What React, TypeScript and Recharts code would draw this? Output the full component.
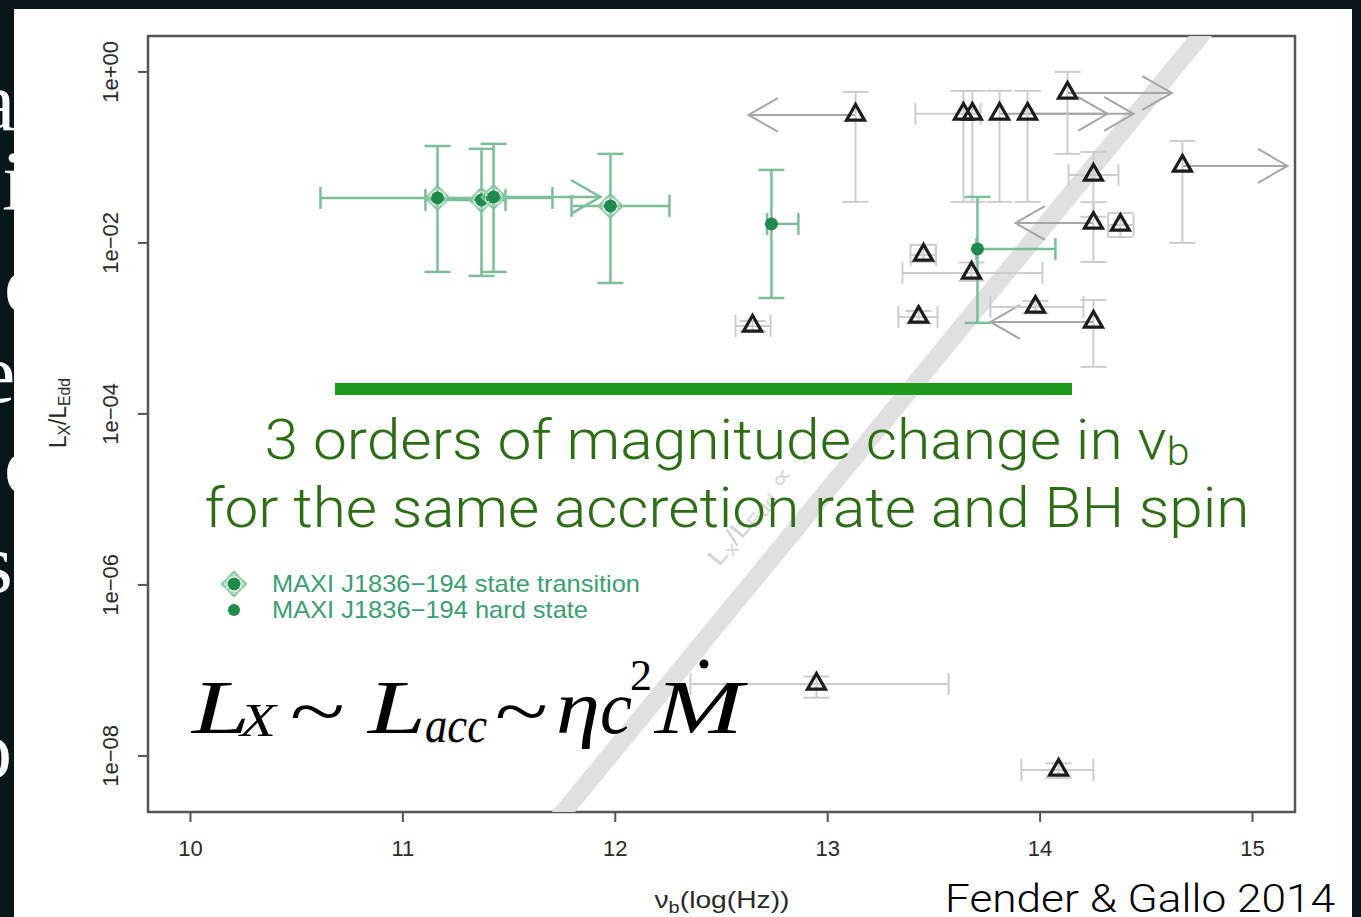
import React from 'react';
import {
  ScatterChart,
  Scatter,
  XAxis,
  YAxis,
  ErrorBar,
  ReferenceLine,
  ReferenceArea,
  Legend,
} from 'recharts';

const WIDTH = 1361;
const HEIGHT = 917;

const SANS = '"Liberation Sans", Arial, Helvetica, sans-serif';
const SERIF = '"Liberation Serif", "Times New Roman", serif';
const LIGHT = 'Roboto, "Open Sans", "Liberation Sans", sans-serif';

// Axes: break frequency in log10(Hz), X-ray luminosity in Eddington units
const xTicks = [10, 11, 12, 13, 14, 15];
const yTicks = [1e-8, 1e-6, 1e-4, 1e-2, 1];
const xDomain = [9.8, 15.2];
const yDomain = [2.21e-9, 2.63];

// MAXI J1836-194, state transition
const transNu = [11.163, 11.37, 11.427, 11.977];
const transL = [0.0336, 0.0318, 0.0345, 0.0271];
const transNuLo = [10.612, 11.106, null, 11.794];
const transNuHi = [11.704, 11.483, null, 12.255];
const transLLo = [0.00458, 0.00411, 0.00458, 0.0034];
const transLHi = [0.136, 0.126, 0.144, 0.11];

// MAXI J1836-194, hard state
const hardNu = [12.735, 13.705];
const hardL = [0.01668, 0.00851];
const hardNuLo = [12.715, 13.7];
const hardNuHi = [12.862, 14.072];
const hardLLo = [0.00227, 0.00116];
const hardLHi = [0.0714, 0.0345];

// Other black hole binaries / AGN
const bhNu = [14.129, 13.131, 13.639, 13.681, 13.809, 13.941, 14.251, 14.251, 14.378, 14.67, 12.646, 13.451, 13.677, 13.428, 13.978, 14.251, 12.947, 14.087];
const bhL = [0.568, 0.314, 0.323, 0.323, 0.323, 0.323, 0.0624, 0.0171, 0.0162, 0.0796, 0.00107, 0.00724, 0.00446, 0.00136, 0.00178, 0.00119, 6.95e-8, 6.86e-9];
const bhNuLo = [null, null, 13.413, null, null, null, 14.134, null, 14.32, null, 12.566, 13.39, 13.352, 13.333, 13.766, null, 12.354, 13.912];
const bhNuHi = [null, null, 13.72, null, null, null, 14.369, null, 14.44, null, 12.731, 13.51, 14.011, 13.517, 14.204, null, 13.569, 14.251];
const bhLLo = [0.11, 0.0302, 0.0302, 0.0302, 0.0302, 0.0302, 0.0202, 0.006, 0.0117, 0.01, 0.00093, 0.006, 0.0036, 0.00115, 0.0015, 0.000355, 4.8e-8, 5.5e-9];
const bhLHi = [1.0, 0.584, 0.6, 0.6, 0.6, 0.6, 0.116, 0.03, 0.0224, 0.156, 0.00122, 0.0095, 0.0059, 0.0016, 0.0021, 0.00215, 8.5e-8, 8.2e-9];

// Frequency limits (arrow from the measured point to the arrow tip)
const bhLimFrom = [14.129, 13.131, 13.809, 13.941, 14.251, 14.67, 14.251];
const bhLimTo = [14.62, 12.627, 14.317, 14.44, 13.884, 15.165, 13.766];
const bhLimL = [0.568, 0.314, 0.323, 0.323, 0.0171, 0.0796, 0.00119];
const transLimFrom = [11.427];
const transLimTo = [11.93];
const transLimL = [0.0345];

// Grey band: L_X/L_Edd relation
const bandNu = [11.6, 14.9];
const bandL = [7.46e-10, 7.23];

const TRANSITION_NAME = 'MAXI J1836\u2212194 state transition';
const HARD_NAME = 'MAXI J1836\u2212194 hard state';

const errPair = (v: number, lo: number | null, hi: number | null) =>
  lo == null || hi == null ? undefined : [v - lo, hi - v];

const transData = transNu.map((x, i) => ({
  x,
  y: transL[i],
  ex: errPair(x, transNuLo[i], transNuHi[i]),
  ey: errPair(transL[i], transLLo[i], transLHi[i]),
}));
const hardData = hardNu.map((x, i) => ({
  x,
  y: hardL[i],
  ex: errPair(x, hardNuLo[i], hardNuHi[i]),
  ey: errPair(hardL[i], hardLLo[i], hardLHi[i]),
}));
const bhData = bhNu.map((x, i) => ({
  x,
  y: bhL[i],
  ex: errPair(x, bhNuLo[i], bhNuHi[i]),
  ey: errPair(bhL[i], bhLLo[i], bhLHi[i]),
}));

const GREEN_DARK = '#1f8a4d';
const GREEN_ERR = '#7dbd97';
const GREY_ERR = '#cdcdcd';
const GREY_ARROW = '#a6a6a6';
const AXIS_TEXT = '#2a2a2a';

const Triangle = (p: any) => {
  const { cx, cy } = p;
  if (cx == null || cy == null) return null;
  const s = 18;
  const h = (s * Math.sqrt(3)) / 2;
  const pts = `${cx},${cy - (2 * h) / 3} ${cx - s / 2},${cy + h / 3} ${cx + s / 2},${cy + h / 3}`;
  return <polygon points={pts} fill="none" stroke="#1c1c1c" strokeWidth={3.2} />;
};

const DiamondMark = ({ cx, cy }: { cx: number; cy: number }) => (
  <g>
    <polygon
      points={`${cx},${cy - 12} ${cx + 12},${cy} ${cx},${cy + 12} ${cx - 12},${cy}`}
      fill="none"
      stroke="#86c4a0"
      strokeWidth={2}
    />
    <circle cx={cx} cy={cy} r={8.5} fill="none" stroke="#a8d6bb" strokeWidth={1.5} />
    <circle cx={cx} cy={cy} r={6.5} fill={GREEN_DARK} />
  </g>
);

const Transition = (p: any) => (p.cx == null ? null : <DiamondMark cx={p.cx} cy={p.cy} />);
const HardDot = (p: any) => (p.cx == null ? null : <circle cx={p.cx} cy={p.cy} r={6.5} fill={GREEN_DARK} />);

const limitArrow = (color: string, w: number) => (p: any) => {
  const { x1, y1, x2, y2 } = p;
  if ([x1, y1, x2, y2].some((v) => v == null || Number.isNaN(v))) return <g />;
  const a = Math.atan2(y2 - y1, x2 - x1);
  const len = 34;
  const spread = 0.52;
  const ax = x2 - len * Math.cos(a - spread);
  const ay = y2 - len * Math.sin(a - spread);
  const bx = x2 - len * Math.cos(a + spread);
  const by = y2 - len * Math.sin(a + spread);
  return (
    <g>
      <line x1={x1} y1={y1} x2={x2} y2={y2} stroke={color} strokeWidth={w} />
      <polyline points={`${ax},${ay} ${x2},${y2} ${bx},${by}`} fill="none" stroke={color} strokeWidth={w} />
    </g>
  );
};

const XTick = (p: any) => (
  <text x={p.x} y={p.y + 32} textAnchor="middle" fontSize={22} fontFamily={SANS} fill={AXIS_TEXT}>
    {p.payload.value}
  </text>
);

const fmtPow = (v: number) => {
  const e = Math.round(Math.log10(v));
  const sign = e < 0 ? '\u2212' : '+';
  return `1e${sign}${String(Math.abs(e)).padStart(2, '0')}`;
};

const YTick = (p: any) => (
  <g transform={`translate(${p.x - 26}, ${p.y}) rotate(-90)`}>
    <text x={0} y={0} dy="0.36em" textAnchor="middle" fontSize={22} fontFamily={SANS} fill={AXIS_TEXT}>
      {fmtPow(p.payload.value)}
    </text>
  </g>
);

const renderLegend = (props: any) => {
  const items = (props.payload || [])
    .filter((it: any) => it.type !== 'none' && (it.value === TRANSITION_NAME || it.value === HARD_NAME))
    .sort((a: any, b: any) => (a.value === TRANSITION_NAME ? -1 : b.value === TRANSITION_NAME ? 1 : 0));
  return (
    <svg width={470} height={56} style={{ display: 'block' }}>
      {items.map((it: any, i: number) => {
        const isTransition = it.value === TRANSITION_NAME;
        return (
          <g key={it.value} transform={`translate(0, ${i * 26})`}>
            {isTransition ? <DiamondMark cx={19} cy={16} /> : <circle cx={19} cy={16} r={6} fill={GREEN_DARK} />}
            <text
              x={57}
              y={24}
              fontSize={24}
              fontFamily={SANS}
              fill="#3d9d74"
              textLength={isTransition ? 368 : 316}
              lengthAdjust="spacingAndGlyphs"
            >
              {it.value}
            </text>
          </g>
        );
      })}
    </svg>
  );
};

// Slide text that sits behind the figure panel
const slideLetters = [
  { ch: 'a', x: -22, y: 130 },
  { ch: 'i', x: 2, y: 210 },
  { ch: 'c', x: 4, y: 312 },
  { ch: 'e', x: -22, y: 402 },
  { ch: 'c', x: 4, y: 493 },
  { ch: 's', x: -20, y: 592 },
  { ch: 'o', x: -30, y: 778 },
];

// Pieces of the accretion-luminosity relation: text, left edge, baseline, size, advance, italic
const formulaParts = [
  { t: 'L', x: 192, y: 733, s: 76, w: 58, it: true },
  { t: 'X', x: 240, y: 736, s: 46, w: 36, it: true },
  { t: '~', x: 290, y: 737, s: 76, w: 55, it: false },
  { t: 'L', x: 368, y: 733, s: 76, w: 58, it: true },
  { t: 'acc', x: 425, y: 742, s: 50, w: 62, it: true },
  { t: '~', x: 495, y: 737, s: 76, w: 53, it: false },
  { t: 'η', x: 556, y: 733, s: 76, w: 44, it: true },
  { t: 'c', x: 600, y: 733, s: 76, w: 32, it: true },
  { t: '2', x: 630, y: 690, s: 44, w: 22, it: false },
  { t: 'M', x: 655, y: 733, s: 76, w: 88, it: true },
];

export default function App() {
  return (
    <div
      style={{
        position: 'absolute',
        left: 0,
        top: 0,
        width: WIDTH,
        height: HEIGHT,
        background: '#08161a',
        overflow: 'hidden',
      }}
    >
      <svg width={WIDTH} height={HEIGHT} style={{ position: 'absolute', left: 0, top: 0 }}>
        {slideLetters.map((l, i) => (
          <text key={i} x={l.x} y={l.y} fontSize={84} fontFamily={SERIF} fill="#ffffff">
            {l.ch}
          </text>
        ))}
        <rect x={14} y={9} width={1338} height={908} fill="#ffffff" />
      </svg>

      <div style={{ position: 'absolute', left: 0, top: 0 }}>
        <ScatterChart width={WIDTH} height={HEIGHT} margin={{ top: 36, right: 66, bottom: 0, left: 0 }}>
          <XAxis
            type="number"
            dataKey="x"
            domain={xDomain}
            ticks={xTicks}
            allowDataOverflow
            height={105}
            tickSize={10}
            axisLine={false}
            tickLine={{ stroke: '#555', strokeWidth: 2 }}
            tick={XTick}
          />
          <YAxis
            type="number"
            dataKey="y"
            scale="log"
            domain={yDomain}
            ticks={yTicks}
            allowDataOverflow
            width={148}
            tickSize={10}
            axisLine={false}
            tickLine={{ stroke: '#555', strokeWidth: 2 }}
            tick={YTick}
          />

          <ReferenceLine
            segment={[
              { x: bandNu[0], y: bandL[0] },
              { x: bandNu[1], y: bandL[1] },
            ]}
            stroke="#e0e0e0"
            strokeWidth={18}
            ifOverflow="hidden"
          />

          {bhLimFrom.map((from, i) => (
            <ReferenceLine
              key={`bl${i}`}
              segment={[
                { x: from, y: bhLimL[i] },
                { x: bhLimTo[i], y: bhLimL[i] },
              ]}
              ifOverflow="visible"
              shape={limitArrow(GREY_ARROW, 2)}
            />
          ))}
          {transLimFrom.map((from, i) => (
            <ReferenceLine
              key={`tl${i}`}
              segment={[
                { x: from, y: transLimL[i] },
                { x: transLimTo[i], y: transLimL[i] },
              ]}
              ifOverflow="visible"
              shape={limitArrow(GREEN_ERR, 2.5)}
            />
          ))}

          <Scatter name="Comparison sources" data={bhData} shape={Triangle} legendType="none" isAnimationActive={false}>
            <ErrorBar dataKey="ex" direction="x" width={11} stroke={GREY_ERR} strokeWidth={2} />
            <ErrorBar dataKey="ey" direction="y" width={13} stroke={GREY_ERR} strokeWidth={2} />
          </Scatter>
          <Scatter name={TRANSITION_NAME} data={transData} shape={Transition} fill={GREEN_DARK} isAnimationActive={false}>
            <ErrorBar dataKey="ex" direction="x" width={11} stroke={GREEN_ERR} strokeWidth={2.5} />
            <ErrorBar dataKey="ey" direction="y" width={13} stroke={GREEN_ERR} strokeWidth={2.5} />
          </Scatter>
          <Scatter name={HARD_NAME} data={hardData} shape={HardDot} fill={GREEN_DARK} isAnimationActive={false}>
            <ErrorBar dataKey="ex" direction="x" width={11} stroke={GREEN_ERR} strokeWidth={2.5} />
            <ErrorBar dataKey="ey" direction="y" width={13} stroke={GREEN_ERR} strokeWidth={2.5} />
          </Scatter>

          <ReferenceArea
            x1={xDomain[0]}
            x2={xDomain[1]}
            y1={yDomain[0]}
            y2={yDomain[1]}
            fill="none"
            stroke="#555"
            strokeWidth={2.5}
            ifOverflow="visible"
          />

          <Legend
            content={renderLegend}
            layout="horizontal"
            verticalAlign="middle"
            align="center"
            wrapperStyle={{ position: 'absolute', left: 215, top: 568, width: 470, height: 56 }}
          />
        </ScatterChart>
      </div>

      <svg
        width={WIDTH}
        height={HEIGHT}
        style={{ position: 'absolute', left: 0, top: 0, pointerEvents: 'none' }}
      >
        {/* axis titles */}
        <text
          transform="translate(66, 413) rotate(-90)"
          textAnchor="middle"
          fontSize={23}
          fontFamily={SANS}
          fill={AXIS_TEXT}
          textLength={70}
          lengthAdjust="spacingAndGlyphs"
        >
          L<tspan dy={4} fontSize={16}>X</tspan>
          <tspan dy={-4}>/L</tspan>
          <tspan dy={4} fontSize={16}>Edd</tspan>
        </text>
        <text
          x={722}
          y={908}
          textAnchor="middle"
          fontSize={24}
          fontFamily={SANS}
          fill={AXIS_TEXT}
          textLength={135}
          lengthAdjust="spacingAndGlyphs"
        >
          ν<tspan dy={5} fontSize={17}>b</tspan>
          <tspan dy={-5}>(log(Hz))</tspan>
        </text>

        {/* label along the grey band */}
        <text
          transform="translate(757, 521) rotate(-50.8)"
          textAnchor="middle"
          fontSize={25}
          fontFamily={SANS}
          fill="#d4d4d4"
          textLength={120}
          lengthAdjust="spacingAndGlyphs"
        >
          L<tspan dy={4} fontSize={18}>x</tspan>
          <tspan dy={-4}>/L</tspan>
          <tspan dy={4} fontSize={18}>Edd</tspan>
          <tspan dy={-4}> ∝</tspan>
        </text>

        {/* annotation */}
        <rect x={335} y={383} width={737} height={12} fill="#1c9a1e" />
        <text
          x={727}
          y={459}
          textAnchor="middle"
          fontSize={56}
          fontWeight={300}
          fontFamily={LIGHT}
          fill="#2d6d16"
          textLength={925}
          lengthAdjust="spacingAndGlyphs"
        >
          3 orders of magnitude change in ν<tspan fontSize={38} dy={6}>b</tspan>
        </text>
        <text
          x={727}
          y={527}
          textAnchor="middle"
          fontSize={56}
          fontWeight={300}
          fontFamily={LIGHT}
          fill="#2d6d16"
          textLength={1045}
          lengthAdjust="spacingAndGlyphs"
        >
          for the same accretion rate and BH spin
        </text>

        {/* accretion luminosity relation */}
        <g fontFamily={SERIF} fill="#000">
          {formulaParts.map((f, i) => (
            <text
              key={i}
              x={f.x}
              y={f.y}
              fontSize={f.s}
              fontStyle={f.it ? 'italic' : 'normal'}
              textLength={f.w}
              lengthAdjust="spacingAndGlyphs"
            >
              {f.t}
            </text>
          ))}
          <circle cx={704} cy={664} r={4.5} />
        </g>

        <text
          x={945}
          y={912}
          fontSize={38}
          fontWeight={300}
          fontFamily={LIGHT}
          fill="#000"
          textLength={390}
          lengthAdjust="spacingAndGlyphs"
        >
          Fender &amp; Gallo 2014
        </text>
      </svg>
    </div>
  );
}
